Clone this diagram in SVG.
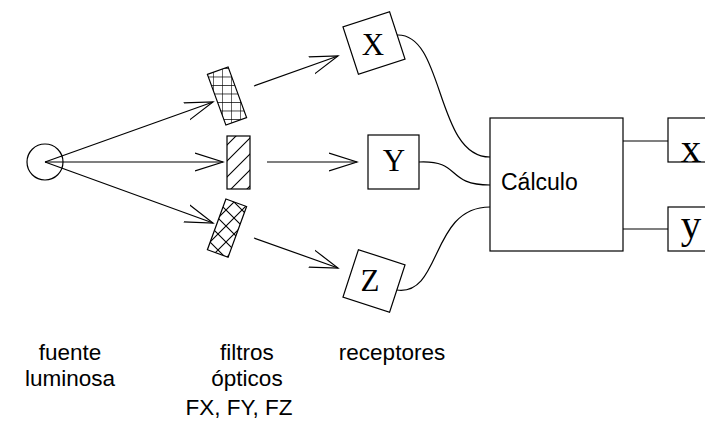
<svg xmlns="http://www.w3.org/2000/svg" width="705" height="428" viewBox="0 0 705 428">
<style>
.ln{fill:none;stroke:#000;stroke-width:1.2}
.bx{fill:#fff;stroke:#000;stroke-width:1.2}
.lbl{font-family:"Liberation Sans",Arial,sans-serif;font-size:22.5px;fill:#000;text-anchor:middle}
.ser{font-family:"Liberation Serif","Times New Roman",serif;fill:#000;text-anchor:middle}
</style>
<defs>
<marker id="arr" markerUnits="userSpaceOnUse" markerWidth="32" markerHeight="22" refX="28" refY="10" orient="auto">
<path d="M0,1 L28,10 L0,19" fill="none" stroke="#000" stroke-width="1.2"/>
</marker>
<pattern id="grid" patternUnits="userSpaceOnUse" width="9" height="8.5" x="6" y="0">
<path d="M0,0 H9 M0,0 V8.5" fill="none" stroke="#000" stroke-width="1.2"/>
</pattern>
<pattern id="diag" patternUnits="userSpaceOnUse" width="16" height="16" x="0" y="4">
<path d="M0,16 L16,0 M-4,4 L4,-4 M12,20 L20,12" fill="none" stroke="#000" stroke-width="1.1"/>
</pattern>
<pattern id="cross" patternUnits="userSpaceOnUse" width="16" height="16" x="2" y="2">
<path d="M0,16 L16,0 M-3,3 L3,-3 M13,19 L19,13 M0,0 L16,16 M-3,13 L3,19 M13,-3 L19,3" fill="none" stroke="#000" stroke-width="1.1"/>
</pattern>
</defs>

<g id="connectors">
<line class="ln" x1="45" y1="162" x2="213" y2="102" marker-end="url(#arr)"/>
<line class="ln" x1="45" y1="162" x2="223" y2="162" marker-end="url(#arr)"/>
<line class="ln" x1="45" y1="162" x2="213" y2="223" marker-end="url(#arr)"/>
<line class="ln" x1="254" y1="86" x2="338" y2="56" marker-end="url(#arr)"/>
<line class="ln" x1="267" y1="162" x2="357" y2="162" marker-end="url(#arr)"/>
<line class="ln" x1="254" y1="238" x2="338" y2="268" marker-end="url(#arr)"/>
<path class="ln" d="M397,35 C445,33 435,157 490,157"/>
<path class="ln" d="M419,162 C462,160 445,185 490,185"/>
<path class="ln" d="M397,290 C442,296 430,207 490,207"/>
<line class="ln" x1="623" y1="141" x2="668" y2="141"/>
<line class="ln" x1="623" y1="229" x2="668" y2="229"/>
</g>

<g id="source">
<circle class="ln" cx="45" cy="162" r="18"/>
</g>

<g id="filterFX">
<polygon points="207.4,74.4 228.1,66.9 246.6,117.6 225.9,125.1" fill="url(#grid)" stroke="#000" stroke-width="1.2"/>
</g>
<g id="filterFY">
<rect x="227" y="136" width="23" height="53" fill="url(#diag)" stroke="#000" stroke-width="1.2"/>
</g>
<g id="filterFZ">
<polygon points="225.9,199 246.6,206.5 228.1,257.2 207.4,249.7" fill="url(#cross)" stroke="#000" stroke-width="1.2"/>
</g>

<g id="receptorX">
<rect class="bx" x="-24.5" y="-25" width="49" height="50" transform="translate(374,43) rotate(-18)"/>
<text class="ser" x="373" y="55" font-size="31">X</text>
</g>
<g id="receptorY">
<rect class="bx" x="368" y="135" width="51" height="54"/>
<text class="ser" x="394" y="171" font-size="31">Y</text>
</g>
<g id="receptorZ">
<rect class="bx" x="-24.5" y="-25" width="49" height="50" transform="translate(374,281) rotate(18)"/>
<text class="ser" x="370" y="291" font-size="31">Z</text>
</g>

<g id="calculo">
<rect class="bx" x="490" y="118" width="133" height="133"/>
<text x="501" y="190" font-family="'Liberation Sans',Arial,sans-serif" font-size="23" fill="#000">Cálculo</text>
</g>

<g id="outX">
<rect class="bx" x="668" y="118" width="50" height="44"/>
<text class="ser" x="691" y="162" font-size="41">x</text>
</g>
<g id="outY">
<rect class="bx" x="668" y="207" width="50" height="44"/>
<text class="ser" x="691" y="238" font-size="41">y</text>
</g>

<g id="labels">
<text class="lbl" x="70" y="360">fuente</text>
<text class="lbl" x="70" y="386">luminosa</text>
<text class="lbl" x="247" y="360">filtros</text>
<text class="lbl" x="247" y="386">ópticos</text>
<text class="lbl" x="239" y="415">FX, FY, FZ</text>
<text class="lbl" x="392" y="360">receptores</text>
</g>
</svg>
